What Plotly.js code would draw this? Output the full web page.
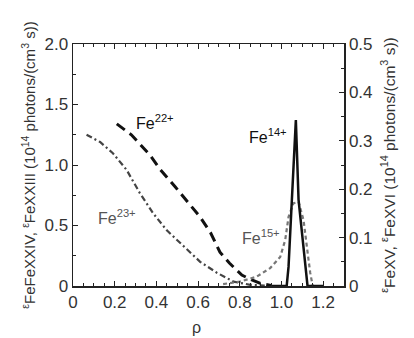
<!DOCTYPE html>
<html><head><meta charset="utf-8">
<script src="https://cdn.plot.ly/plotly-3.0.1.min.js"></script>
<style>html,body{margin:0;padding:0;background:#fff}#c{width:414px;height:338px}</style>
</head><body><div id="c"></div>
<script>
// Fe22+ (left axis)
const fe22X = [0.21, 0.28, 0.37, 0.42, 0.49, 0.546, 0.61, 0.66, 0.705, 0.75, 0.81, 0.858, 0.90, 0.95];
const fe22Y = [1.34, 1.25, 1.08, 0.96, 0.82, 0.70, 0.57, 0.44, 0.28, 0.19, 0.09, 0.05, 0.02, 0.005];
// Fe23+ (left axis)
const fe23X = [0.065, 0.13, 0.19, 0.257, 0.32, 0.385, 0.45, 0.53, 0.61, 0.69, 0.77, 0.85, 0.92];
const fe23Y = [1.25, 1.19, 1.10, 0.96, 0.77, 0.60, 0.46, 0.33, 0.20, 0.11, 0.036, 0.01, 0.003];
// Fe15+ (right axis)
const fe15X = [0.72, 0.80, 0.88, 0.946, 0.994, 1.018, 1.034, 1.058, 1.082, 1.106, 1.122, 1.138, 1.15];
const fe15Y = [0.004, 0.009, 0.019, 0.037, 0.06, 0.095, 0.143, 0.171, 0.174, 0.136, 0.081, 0.027, 0.0];
// Fe14+ (right axis)
const fe14X = [0.95, 1.025, 1.034, 1.05, 1.069, 1.082, 1.114, 1.125, 1.2];
const fe14Y = [0.0, 0.0, 0.04, 0.178, 0.343, 0.178, 0.04, 0.0, 0.0];

const labels = [
  {text: 'Fe<sup>22+</sup>', x: 0.394, y: 1.355, color: '#111'},
  {text: 'Fe<sup>23+</sup>', x: 0.21, y: 0.57, color: '#555'},
  {text: 'Fe<sup>14+</sup>', x: 0.936, y: 1.24, color: '#111'},
  {text: 'Fe<sup>15+</sup>', x: 0.90, y: 0.405, color: '#555'}
];

const F = 'Liberation Sans, Arial, sans-serif';
const traces = [
  {x: fe22X, y: fe22Y, mode: 'lines', line: {color: '#111', width: 3, dash: '10px,6px'}, yaxis: 'y'},
  {x: fe23X, y: fe23Y, mode: 'lines', line: {color: '#444', width: 2.2, dash: '6px,3px,2px,3px'}, yaxis: 'y'},
  {x: fe15X, y: fe15Y, mode: 'lines', line: {color: '#777', width: 2.2, dash: '4px,3px'}, yaxis: 'y2'},
  {x: fe14X, y: fe14Y, mode: 'lines', line: {color: '#111', width: 2.5}, yaxis: 'y2'}
];

const axBase = {showline: true, linecolor: '#222', linewidth: 1.5, ticks: 'inside', ticklen: 5,
  tickcolor: '#222', tickwidth: 1, showgrid: false, zeroline: false,
  tickfont: {family: F, size: 17, color: '#333'}};

const layout = {
  width: 414, height: 338,
  margin: {l: 73, r: 70, t: 44, b: 52},
  paper_bgcolor: '#fff', plot_bgcolor: '#fff',
  showlegend: false,
  xaxis: Object.assign({}, axBase, {range: [0, 1.3], tickvals: [0, 0.2, 0.4, 0.6, 0.8, 1.0, 1.2],
    ticktext: ['0', '0.2', '0.4', '0.6', '0.8', '1.0', '1.2'], mirror: 'ticks',
    minor: {dtick: 0.05, ticklen: 3, tickcolor: '#222', ticks: 'inside'}}),
  yaxis: Object.assign({}, axBase, {range: [0, 2.0], tickvals: [0, 0.5, 1.0, 1.5, 2.0],
    ticktext: ['0', '0.5', '1.0', '1.5', '2.0'],
    minor: {dtick: 0.25, ticklen: 3, tickcolor: '#222', ticks: 'inside'},
    title: {text: '<sup>ε</sup>FeFeXXIV, <sup>ε</sup>FeXXIII (10<sup>14</sup> photons/(cm<sup>3</sup> s))',
      font: {family: F, size: 15, color: '#333'}, standoff: 5}}),
  yaxis2: Object.assign({}, axBase, {range: [0, 0.5], overlaying: 'y', side: 'right',
    tickvals: [0, 0.1, 0.2, 0.3, 0.4, 0.5], ticktext: ['0', '0.1', '0.2', '0.3', '0.4', '0.5'],
    minor: {dtick: 0.05, ticklen: 3, tickcolor: '#222', ticks: 'inside'},
    title: {text: '<sup>ε</sup>FeXV, <sup>ε</sup>FeXVI (10<sup>14</sup> photons/(cm<sup>3</sup> s))',
      font: {family: F, size: 15.5, color: '#333'}, standoff: 12}}),
  annotations: labels.map(l => ({text: l.text, x: l.x, y: l.y, xref: 'x', yref: 'y',
    showarrow: false, font: {family: F, size: 16, color: l.color}})).concat([
    {text: 'ρ', xref: 'paper', yref: 'paper', x: 0.454, y: -0.17, yanchor: 'middle',
     showarrow: false, font: {family: F, size: 16, color: '#333'}}])
};

Plotly.newPlot('c', traces, layout, {displayModeBar: false, staticPlot: true});
</script></body></html>
